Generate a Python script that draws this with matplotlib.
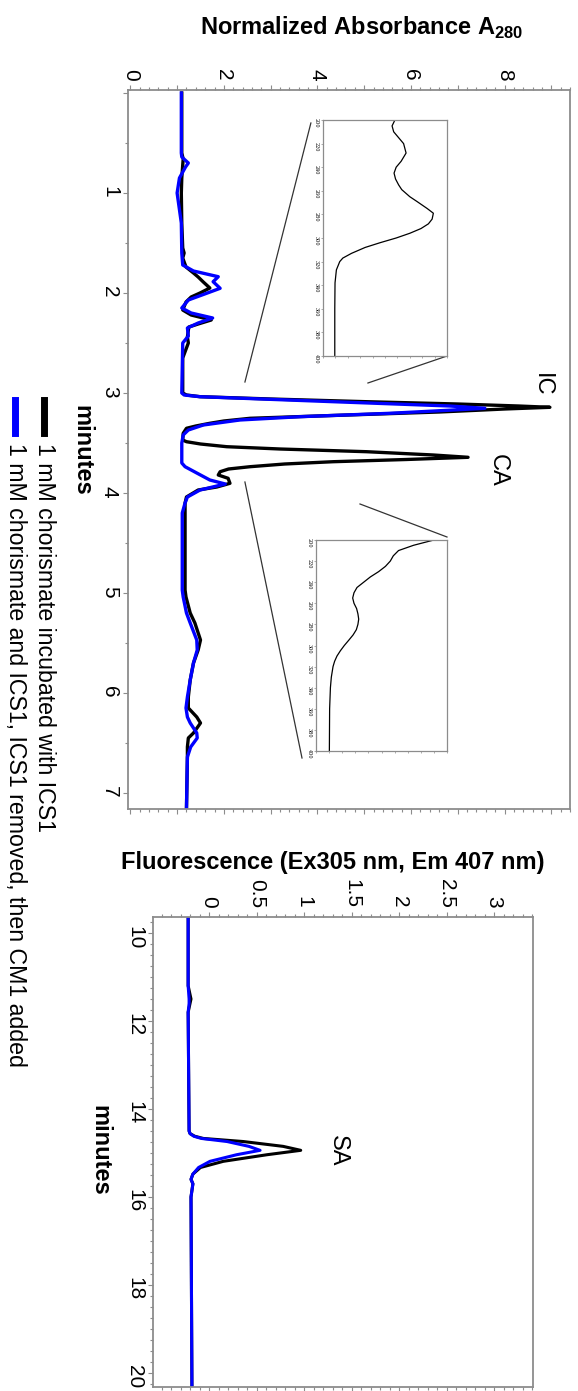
import matplotlib
matplotlib.use('Agg')
import matplotlib.pyplot as plt
from matplotlib.ticker import MultipleLocator, FuncFormatter
from matplotlib.lines import Line2D

plt.rcParams['font.family'] = ['Liberation Sans', 'DejaVu Sans']
plt.rcParams['mathtext.fontset'] = 'custom'
plt.rcParams['mathtext.rm'] = 'Liberation Sans'
plt.rcParams['mathtext.bf'] = 'Liberation Sans:bold'

# ---------------- data ----------------
# Absorbance chromatogram (minutes vs normalized A280)
t_black = [0.0, 0.6, 0.66, 0.72, 0.85, 1.0, 1.3, 1.55, 1.6, 1.65, 1.74, 1.8, 1.84, 1.89, 1.95,
           2.0, 2.04, 2.09, 2.17, 2.22, 2.27, 2.31, 2.34, 2.44, 2.5, 2.55, 2.65, 3.0, 3.02, 3.037,
           3.06, 3.087, 3.11, 3.13, 3.143, 3.16, 3.17, 3.19, 3.203, 3.23, 3.253, 3.28, 3.303, 3.33,
           3.353, 3.403, 3.47, 3.487, 3.51, 3.537, 3.56, 3.587, 3.62, 3.643, 3.665, 3.687, 3.71,
           3.737, 3.76, 3.787, 3.82, 3.853, 3.903, 3.94, 3.97, 4.04, 4.10, 4.2, 4.6, 4.97, 5.04,
           5.2, 5.3, 5.47, 5.57, 5.70, 5.87, 6.04, 6.15, 6.24, 6.30, 6.40, 6.45, 6.54, 6.64, 7.16]
a_black = [1.10, 1.10, 1.13, 1.12, 1.10, 1.09, 1.10, 1.12, 1.15, 1.12, 1.19, 1.35, 1.45, 1.56, 1.70,
           1.49, 1.30, 1.19, 1.12, 1.30, 1.73, 1.45, 1.25, 1.22, 1.24, 1.20, 1.12, 1.12, 1.2, 1.49,
           3.0, 5.05, 7.0, 8.3, 8.97, 8.0, 7.54, 6.6, 5.76, 4.0, 2.56, 2.0, 1.70, 1.40,
           1.20, 1.13, 1.12, 1.20, 1.5, 2.06, 3.2, 5.05, 6.48, 7.22, 5.9, 4.34, 3.3,
           2.56, 2.1, 1.92, 1.88, 2.09, 2.13, 1.85, 1.45, 1.20, 1.17, 1.17, 1.17, 1.17, 1.19,
           1.28, 1.38, 1.50, 1.45, 1.35, 1.28, 1.24, 1.24, 1.42, 1.50, 1.35, 1.24, 1.22, 1.22, 1.20]
t_blue = [0.0, 0.6, 0.64, 0.70, 0.74, 0.85, 1.0, 1.1, 1.3, 1.6, 1.72, 1.78, 1.837, 1.887, 1.953,
          2.003, 2.07, 2.15, 2.2, 2.25, 2.3, 2.35, 2.43, 2.5, 3.0, 3.02, 3.037, 3.087, 3.13, 3.153,
          3.18, 3.203, 3.237, 3.27, 3.32, 3.37, 3.42, 3.5, 3.70, 3.737, 3.80, 3.87, 3.91, 3.97,
          4.04, 4.10, 4.2, 4.6, 4.97, 5.04, 5.2, 5.3, 5.47, 5.57, 5.70, 5.87, 6.04, 6.15, 6.24,
          6.30, 6.40, 6.45, 6.54, 6.64, 7.16]
a_blue = [1.09, 1.09, 1.10, 1.24, 1.18, 1.05, 1.00, 1.03, 1.09, 1.10, 1.12, 1.35, 1.88, 1.77, 1.92,
          1.63, 1.24, 1.10, 1.30, 1.76, 1.45, 1.22, 1.24, 1.12, 1.10, 1.15, 1.49, 4.34, 6.83, 7.58,
          6.5, 5.55, 3.63, 2.34, 1.56, 1.24, 1.13, 1.10, 1.10, 1.17, 1.42, 1.70, 2.03, 1.49,
          1.22, 1.17, 1.11, 1.11, 1.11, 1.13, 1.20, 1.28, 1.42, 1.43, 1.35, 1.28, 1.22, 1.19, 1.22,
          1.28, 1.42, 1.43, 1.29, 1.22, 1.20]

# Fluorescence chromatogram (minutes vs fluorescence)
tf_black = [9.6, 11.2, 11.5, 11.6, 11.8, 14.5, 14.56, 14.62, 14.67, 14.74, 14.85, 14.94, 15.04,
            15.19, 15.33, 15.48, 15.6, 15.7, 16.0, 20.4]
f_black = [-0.22, -0.22, -0.19, -0.20, -0.22, -0.21, -0.20, -0.15, -0.06, 0.36, 0.78, 0.965, 0.61,
           0.15, -0.09, -0.17, -0.19, -0.17, -0.19, -0.18]
tf_blue = [9.6, 11.2, 11.5, 11.6, 11.8, 14.5, 14.56, 14.62, 14.67, 14.74, 14.85, 14.94, 15.04,
           15.19, 15.33, 15.48, 15.6, 15.7, 16.0, 20.4]
f_blue = [-0.22, -0.22, -0.21, -0.21, -0.22, -0.21, -0.20, -0.16, -0.08, 0.19, 0.42, 0.537, 0.29,
          0.01, -0.11, -0.17, -0.19, -0.17, -0.19, -0.18]

# UV spectra in the insets (wavelength nm vs relative absorbance)
wl_ic = [200, 205, 210, 215, 220, 228, 235, 240, 245, 250, 255, 259, 265, 269, 275, 279, 284, 288,
         292, 296, 300, 304, 308, 313, 317, 320, 327, 338, 360, 400]
ab_ic = [0.58, 0.557, 0.57, 0.61, 0.65, 0.67, 0.63, 0.59, 0.573, 0.585, 0.61, 0.635, 0.70, 0.757,
         0.84, 0.89, 0.88, 0.85, 0.79, 0.70, 0.59, 0.46, 0.34, 0.23, 0.16, 0.135, 0.108, 0.097, 0.095,
         0.095]
wl_ca = [200, 205, 210, 215, 220, 225, 230, 235, 240, 245, 250, 255, 260, 265, 270, 275, 280, 285,
         290, 295, 300, 305, 310, 315, 320, 330, 340, 360, 400]
ab_ca = [0.90, 0.745, 0.63, 0.59, 0.567, 0.53, 0.478, 0.415, 0.364, 0.313, 0.29, 0.28, 0.29, 0.31,
         0.32, 0.326, 0.32, 0.308, 0.283, 0.25, 0.216, 0.186, 0.16, 0.142, 0.13, 0.117, 0.11, 0.104,
         0.102]

label_black = '1 mM chorismate incubated with ICS1'
label_blue = '1 mM chorismate and ICS1, ICS1 removed, then CM1 added'
abs_ticks = [0, 2, 4, 6, 8]
fl_ticks = [0, 0.5, 1, 1.5, 2, 2.5, 3]
min_ticks_top = [1, 2, 3, 4, 5, 6, 7]
min_ticks_bot = [10, 12, 14, 16, 18, 20]
wl_ticks = [200, 220, 240, 260, 280, 300, 320, 340, 360, 380, 400]

# ---------------- figure ----------------
W, H = 578, 1391
fig = plt.figure(figsize=(W / 100, H / 100), dpi=100)


def rect(l, t, r, b):
    return [l / W, 1 - b / H, (r - l) / W, (b - t) / H]


def fx(x):
    return x / W


def fy(y):
    return 1 - y / H


GREY = '#8c8c8c'
BLUE = '#0000ff'
FS_TICK = 15


def style_axes(ax):
    for s in ax.spines.values():
        s.set_color(GREY)
        s.set_linewidth(1.3)
    ax.tick_params(which='both', direction='out', color=GREY, width=0.8)
    ax.tick_params(which='major', length=3.5)
    ax.tick_params(which='minor', length=2)


# ---- top: absorbance ----
ax1 = fig.add_axes(rect(128, 90, 570, 809))
ax1.plot(a_black, t_black, color='black', lw=2.4, solid_joinstyle='round')
ax1.plot(a_blue, t_blue, color=BLUE, lw=2.4, solid_joinstyle='round')
ax1.set_xlim(-0.05, 9.4)
ax1.set_ylim(7.16, -0.03)
style_axes(ax1)
ax1.xaxis.set_major_locator(MultipleLocator(1))
ax1.xaxis.set_minor_locator(MultipleLocator(0.2))
ax1.xaxis.set_major_formatter(FuncFormatter(lambda v, p: ('%d' % round(v)) if round(v) in abs_ticks and abs(v - round(v)) < 1e-6 else ''))
ax1.yaxis.set_major_locator(MultipleLocator(1))
ax1.yaxis.set_minor_locator(MultipleLocator(0.5))
ax1.yaxis.set_major_formatter(FuncFormatter(lambda v, p: ('%d' % round(v)) if round(v) in min_ticks_top else ''))
ax1.tick_params(axis='x', which='both', top=True, bottom=True, labeltop=True, labelbottom=False)
ax1.tick_params(axis='y', which='both', left=True, right=False)
ax1.tick_params(axis='x', labelrotation=-90, labelsize=FS_TICK, pad=3)
ax1.tick_params(axis='y', labelrotation=-90, labelsize=FS_TICK, pad=3)

ax1.text(8.8, 2.92, 'IC', rotation=-90, ha='center', va='center', fontsize=17)
ax1.text(7.86, 3.77, 'CA', rotation=-90, ha='center', va='center', fontsize=17)

# zoom lines to insets
for (x0, y0, x1, y1) in [(3.86, 0.30, 2.45, 2.89), (6.77, 2.63, 5.08, 2.90),
                         (2.45, 3.89, 3.67, 6.65), (4.91, 4.11, 6.77, 4.44)]:
    ax1.add_line(Line2D([x0, x1], [y0, y1], color='#333333', lw=0.9, clip_on=False))

fig.text(fx(362), fy(28), r'Normalized Absorbance A$_{\mathbf{280}}$', fontsize=17,
         fontweight='bold', ha='center', va='center')
fig.text(fx(82), fy(450), 'minutes', rotation=-90, fontsize=17, fontweight='bold',
         ha='center', va='center')


def inset(r, wl, ab):
    ax = fig.add_axes(rect(*r))
    ax.plot(ab, wl, color='black', lw=0.9)
    ax.set_ylim(400, 200)
    ax.set_xlim(0, 1)
    for s in ax.spines.values():
        s.set_color(GREY)
        s.set_linewidth(0.9)
    ax.set_yticks(wl_ticks)
    ax.set_yticklabels([str(w) for w in wl_ticks], rotation=-90, fontsize=3.5,
                       family=['DejaVu Serif'])
    ax.xaxis.set_major_locator(MultipleLocator(0.1))
    ax.tick_params(axis='x', labelbottom=False, bottom=True, top=False, length=1.5,
                   color=GREY, direction='out', width=0.5)
    ax.tick_params(axis='y', length=1.5, color=GREY, pad=1.5, width=0.5)
    return ax


inset((323, 120, 447, 356), wl_ic, ab_ic)
inset((316, 540, 447, 751), wl_ca, ab_ca)

# ---- bottom: fluorescence ----
ax2 = fig.add_axes(rect(153, 917, 533, 1387))
ax2.plot(f_black, tf_black, color='black', lw=2.2, solid_joinstyle='round')
ax2.plot(f_blue, tf_blue, color=BLUE, lw=2.2, solid_joinstyle='round')
ax2.set_xlim(-0.59, 3.41)
ax2.set_ylim(20.32, 9.636)
style_axes(ax2)
ax2.set_xticks(fl_ticks)
ax2.xaxis.set_major_formatter(FuncFormatter(lambda v, p: '%g' % v))
ax2.xaxis.set_minor_locator(MultipleLocator(0.1))
ax2.set_yticks(min_ticks_bot)
ax2.yaxis.set_minor_locator(MultipleLocator(0.25))
ax2.tick_params(axis='x', which='both', top=True, bottom=True, labeltop=True, labelbottom=False)
ax2.tick_params(axis='y', which='both', left=True, right=False)
ax2.tick_params(axis='x', labelrotation=-90, labelsize=FS_TICK, pad=3)
ax2.tick_params(axis='y', labelrotation=-90, labelsize=FS_TICK, pad=3)
ax2.text(1.36, 14.96, 'SA', rotation=-90, ha='center', va='center', fontsize=17)

fig.text(fx(333), fy(862), 'Fluorescence (Ex305 nm, Em 407 nm)', fontsize=17,
         fontweight='bold', ha='center', va='center')
fig.text(fx(100), fy(1150), 'minutes', rotation=-90, fontsize=17, fontweight='bold',
         ha='center', va='center')

# ---- legend (rotated) ----
for xc, col, lab in [(44, 'black', label_black), (15, BLUE, label_blue)]:
    fig.add_artist(Line2D([fx(xc), fx(xc)], [fy(400), fy(433)], transform=fig.transFigure,
                          color=col, lw=5))
    fig.text(fx(xc), fy(443), lab, rotation=-90, rotation_mode='anchor', ha='left',
             va='center', fontsize=16.7)

fig.savefig('out.png', dpi=100)
